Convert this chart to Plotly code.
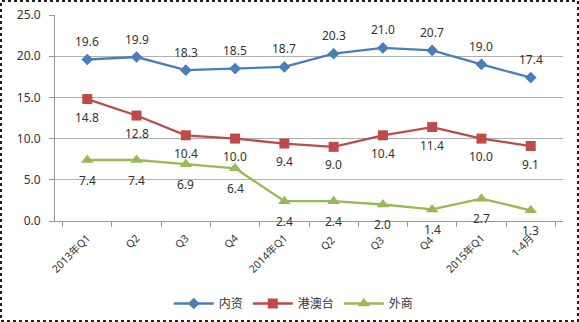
import plotly.graph_objects as go

# Quarterly share values by ownership type
categories = ["2013年Q1", "Q2", "Q3", "Q4", "2014年Q1", "Q2 ", "Q3 ", "Q4 ", "2015年Q1", "1-4月"]
domestic = [19.6, 19.9, 18.3, 18.5, 18.7, 20.3, 21.0, 20.7, 19.0, 17.4]
hk_macao_tw = [14.8, 12.8, 10.4, 10.0, 9.4, 9.0, 10.4, 11.4, 10.0, 9.1]
foreign = [7.4, 7.4, 6.9, 6.4, 2.4, 2.4, 2.0, 1.4, 2.7, 1.3]

W, H = 579, 322
ML, MR, MT, MB = 55, 16, 15, 101
FONT = "Noto Sans, Noto Sans CJK SC, sans-serif"

fig = go.Figure()

# name, values, colour, marker symbol, marker size, label shift (px)
series = [
    ("内资", domestic, "#4A7EBB", "diamond", 9, 18),
    ("港澳台", hk_macao_tw, "#BE4B48", "square", 10, -18),
    ("外商", foreign, "#98B954", "triangle-up", 11, -20),
]
for name, vals, color, sym, size, shift in series:
    fig.add_trace(go.Scatter(
        x=categories, y=vals, name=name,
        mode="lines+markers",
        line=dict(color=color, width=2.3),
        marker=dict(symbol=sym, size=size, color=color),
        cliponaxis=False,
    ))
    for c, v in zip(categories, vals):
        fig.add_annotation(
            x=c, y=v, text=f"{v:.1f}", showarrow=False,
            yshift=shift, font=dict(size=12, color="#333333", family=FONT),
        )

pw = W - ML - MR
ph = H - MT - MB
fig.add_shape(type="rect", xref="paper", yref="paper",
              x0=-(ML - 1) / pw, x1=1 + (MR - 1) / pw,
              y0=-(MB - 1) / ph, y1=1 + (MT - 1) / ph,
              line=dict(color="#222222", width=2, dash="dot"))

fig.update_layout(
    width=W, height=H,
    margin=dict(l=ML, r=MR, t=MT, b=MB, autoexpand=False),
    paper_bgcolor="white", plot_bgcolor="white",
    font=dict(family=FONT, size=11, color="#333333"),
    showlegend=True,
    legend=dict(orientation="h", x=0.47, xanchor="center", y=-0.33, yanchor="top",
                font=dict(size=12, family=FONT), itemwidth=40, tracegroupgap=0),
    xaxis=dict(
        type="category", tickangle=-45, automargin=False,
        tickson="boundaries", ticks="outside", ticklen=5, tickcolor="#999999",
        showline=True, linecolor="#999999", linewidth=1, ticklabelstandoff=6,
        showgrid=False, tickfont=dict(size=10.5, family=FONT),
    ),
    yaxis=dict(
        range=[0, 25], dtick=5, tickformat=".1f", automargin=False,
        showgrid=True, gridcolor="#B0B0B0", gridwidth=1,
        showline=True, linecolor="#999999", linewidth=1,
        ticks="outside", ticklen=5, tickcolor="#999999", ticklabelstandoff=6,
        tickfont=dict(size=12, family=FONT), zeroline=False,
    ),
)

fig.write_html("out.html")
